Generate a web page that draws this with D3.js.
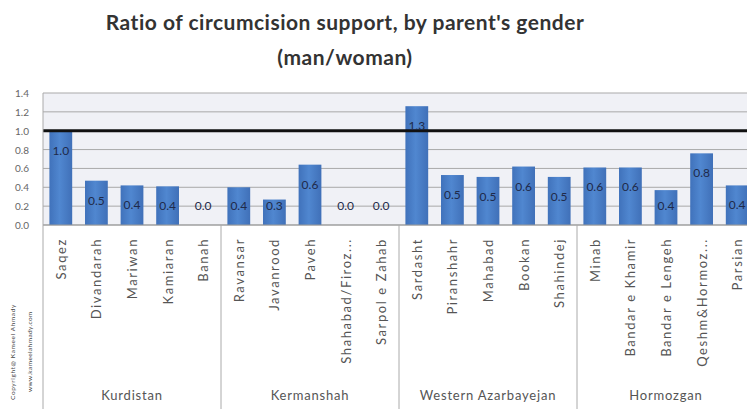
<!DOCTYPE html>
<html>
<head>
<meta charset="utf-8">
<script src="https://cdn.jsdelivr.net/npm/d3@7"></script>
<style>
  body { margin: 0; background: #fff; }
  text { font-family: Lato, "Open Sans", sans-serif; }
</style>
</head>
<body>
<div id="chart"></div>
<script>
// Ratio of circumcision support, man/woman, by city and province

const cities = ["Saqez", "Divandarah", "Mariwan", "Kamiaran", "Banah",
  "Ravansar", "Javanrood", "Paveh", "Shahabad/Firoz...", "Sarpol e Zahab",
  "Sardasht", "Piranshahr", "Mahabad", "Bookan", "Shahindej",
  "Minab", "Bandar e Khamir", "Bandar e Lengeh", "Qeshm&Hormoz...", "Parsian"];
const provinces = ["Kurdistan", "Kermanshah", "Western Azarbayejan", "Hormozgan"];
const cityProvince = [0, 0, 0, 0, 0, 1, 1, 1, 1, 1, 2, 2, 2, 2, 2, 3, 3, 3, 3, 3];
const ratios = [1.0, 0.47, 0.42, 0.41, 0.0,
  0.40, 0.27, 0.64, 0.0, 0.0,
  1.26, 0.53, 0.51, 0.62, 0.51,
  0.61, 0.61, 0.37, 0.76, 0.42];
const yTicks = [0, 0.2, 0.4, 0.6, 0.8, 1.0, 1.2, 1.4];
const parityLine = 1.0;

const W = 747, H = 409;
const pLeft = 43, pRight = 755, pTop = 93, pBottom = 225;

const svg = d3.select("#chart").append("svg")
  .attr("width", W).attr("height", H);

// title
svg.append("text").attr("x", 345).attr("y", 30)
  .attr("text-anchor", "middle").attr("font-size", 21).attr("font-weight", "bold")
  .attr("letter-spacing", 0.5).attr("fill", "#333")
  .text("Ratio of circumcision support, by parent's gender");
svg.append("text").attr("x", 345).attr("y", 65)
  .attr("text-anchor", "middle").attr("font-size", 21).attr("font-weight", "bold")
  .attr("letter-spacing", 0.5).attr("fill", "#333").text("(man/woman)");

var x = d3.scaleBand().domain(cities).range([pLeft, pRight]).paddingInner(0.36).paddingOuter(0.18);
var y = d3.scaleLinear().domain([0, 1.4]).range([pBottom, pTop]);

// plot area
svg.append("rect").attr("x", pLeft).attr("y", pTop)
  .attr("width", pRight - pLeft).attr("height", pBottom - pTop)
  .attr("fill", "#f0f1f6");

svg.append("g").selectAll("line").data(yTicks).enter().append("line")
  .attr("x1", pLeft).attr("x2", pRight)
  .attr("y1", d => y(d)).attr("y2", d => y(d))
  .attr("stroke", "#a9a9a9").attr("stroke-width", 1);

// y axis labels
svg.append("g").selectAll("text").data(yTicks).enter().append("text")
  .attr("x", 29).attr("y", d => y(d) + 4)
  .attr("text-anchor", "end").attr("font-size", 10).attr("fill", "#666")
  .text(d => d.toFixed(1));

// bars
var grad = svg.append("defs").append("linearGradient").attr("id", "barg")
  .attr("x1", 0).attr("x2", 1).attr("y1", 0).attr("y2", 0);
grad.append("stop").attr("offset", "0%").attr("stop-color", "#4072bb");
grad.append("stop").attr("offset", "45%").attr("stop-color", "#5087d0");
grad.append("stop").attr("offset", "100%").attr("stop-color", "#4070b8");

svg.append("g").selectAll("rect").data(ratios).enter().append("rect")
  .attr("x", (d, i) => x(cities[i]))
  .attr("y", d => y(d))
  .attr("width", x.bandwidth())
  .attr("height", d => y(0) - y(d))
  .attr("fill", "url(#barg)");

// parity line at 1.0
svg.append("line").attr("x1", pLeft).attr("x2", pRight)
  .attr("y1", y(parityLine)).attr("y2", y(parityLine))
  .attr("stroke", "#111").attr("stroke-width", 3);

// data labels
svg.append("g").selectAll("text").data(ratios).enter().append("text")
  .attr("x", (d, i) => x(cities[i]) + x.bandwidth() / 2)
  .attr("y", d => Math.min(y(d) + 24, y(0) - 15))
  .attr("text-anchor", "middle").attr("font-size", 12).attr("fill", "#1f2a4a")
  .text(d => d.toFixed(1));

// axis line and left border
svg.append("line").attr("x1", pLeft).attr("x2", pRight)
  .attr("y1", pBottom).attr("y2", pBottom).attr("stroke", "#999");
svg.append("line").attr("x1", pLeft).attr("x2", pLeft)
  .attr("y1", pTop).attr("y2", H).attr("stroke", "#aaa");

// group separators and province names
var step = x.step();
provinces.forEach(function(p, k) {
  var idx = cityProvince.indexOf(k);
  var n = cityProvince.filter(c => c === k).length;
  var x0 = x(cities[idx]) - (x.step() - x.bandwidth()) / 2;
  if (k > 0) {
    svg.append("line").attr("x1", x0).attr("x2", x0)
      .attr("y1", pBottom).attr("y2", H).attr("stroke", "#aaa");
  }
  svg.append("text").attr("x", x0 + n * step / 2).attr("y", 400)
    .attr("text-anchor", "middle").attr("font-size", 13).attr("letter-spacing", 0.8)
    .attr("fill", "#555").text(p);
});

// category labels
svg.append("g").selectAll("text").data(cities).enter().append("text")
  .attr("transform", d => "translate(" + (x(d) + x.bandwidth() / 2 + 5) + ",238) rotate(-90)")
  .attr("text-anchor", "end").attr("font-size", 13).attr("letter-spacing", 1.6)
  .attr("fill", "#555").text(d => d);

// copyright note
svg.append("text").attr("transform", "translate(15,400) rotate(-90)")
  .attr("font-size", 6.5).attr("letter-spacing", 0.6).attr("fill", "#444")
  .text("Copyright@ Kameel Ahmady");
svg.append("text").attr("transform", "translate(32,392) rotate(-90)")
  .attr("font-size", 6.5).attr("letter-spacing", 0.4).attr("fill", "#444")
  .text("www.kameelahmady.com");
</script>
</body>
</html>
